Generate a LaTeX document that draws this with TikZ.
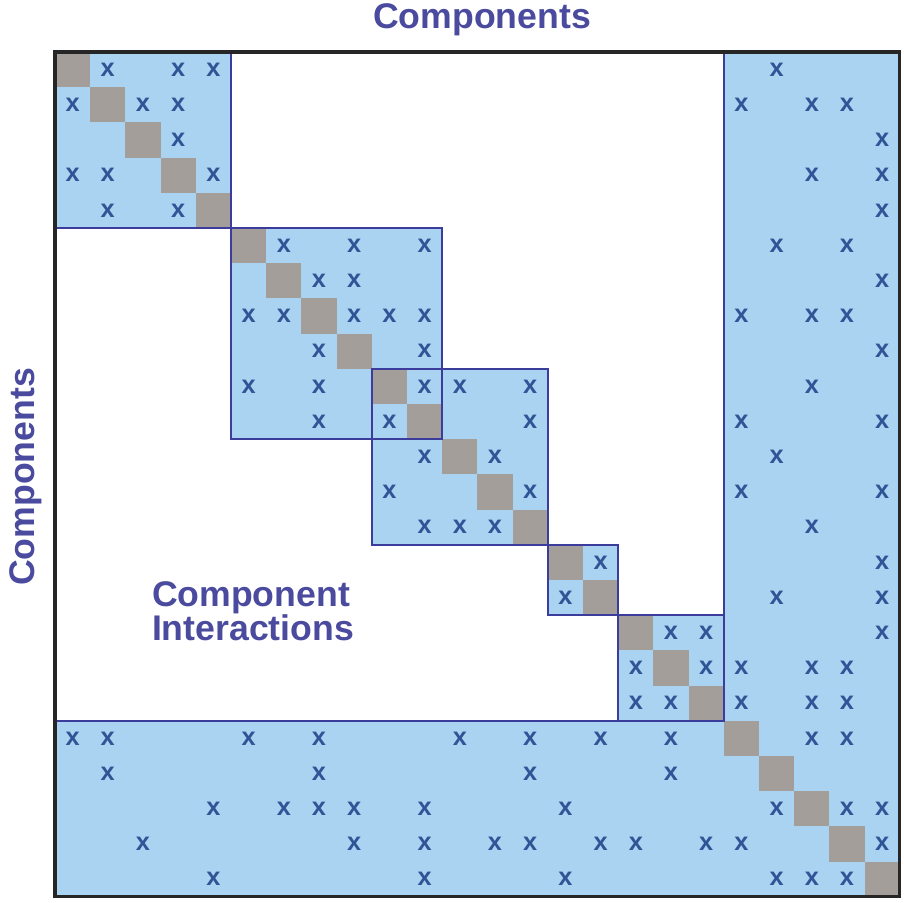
\documentclass[tikz,border=0pt]{standalone}
\usepackage{fontspec}
\setsansfont{Liberation Sans}
\usepackage{xcolor}
\usepackage{tikz}
\usetikzlibrary{calc, positioning}

\definecolor{dsmblue}{HTML}{A9D3F0}
\definecolor{dsmgrey}{HTML}{A39E9A}
\definecolor{dsmline}{HTML}{3B3C9C}
\definecolor{dsmmark}{HTML}{2F5597}
\definecolor{dsmtext}{HTML}{4A4A9E}

\begin{document}
\begin{tikzpicture}[>=latex,
    blockbox/.style={draw=dsmline, line width=1.8pt},
    xmark/.style={text=dsmmark, inner sep=0pt,
        font=\sffamily\bfseries\fontsize{20.5}{20.5}\selectfont},
    labeltext/.style={text=dsmtext, inner sep=0pt,
        font=\sffamily\bfseries\fontsize{28.8}{24.3}\selectfont}]
    \useasboundingbox (-1.5625,1.4773) rectangle (24.0909,-24.1761);
    % 1. Light blue areas: bands and blocks
    \fill[dsmblue] (19,0) -- (24,0) -- (24,-24) -- (0,-24) -- (0,-19) -- (19,-19) -- cycle;
    \foreach \a/\b in {0/5, 5/11, 9/14, 14/16, 16/19}
        \fill[dsmblue] (\a,-\a) rectangle (\b,-\b);
    % 2. Diagonal
    \foreach \i in {0,...,23}
        \fill[dsmgrey] (\i,-\i) rectangle ++(1,-1);
    % 3. Block borders and frame
    \foreach \a/\b in {0/5, 5/11, 9/14, 14/16, 16/19}
        \draw[blockbox] (\a,-\a) rectangle (\b,-\b);
    \draw[blockbox] (19,0) -- (19,-19) -- (0,-19);
    \draw[line width=2.6pt, black!85] (0,0) rectangle (24,-24);
    % 4. Interactions
    \foreach \row/\cols in {0/{1,3,4,20}, 1/{0,2,3,19,21,22}, 2/{3,23},
        3/{0,1,4,21,23}, 4/{1,3,23}, 5/{6,8,10,20,22}, 6/{7,8,23},
        7/{5,6,8,9,10,19,21,22}, 8/{7,10,23}, 9/{5,7,10,11,13,21},
        10/{7,9,13,19,23}, 11/{10,12,20}, 12/{9,13,19,23}, 13/{10,11,12,21},
        14/{15,23}, 15/{14,20,23}, 16/{17,18,23}, 17/{16,18,19,21,22},
        18/{16,17,19,21,22}, 19/{0,1,5,7,11,13,15,17,21,22}, 20/{1,7,13,17},
        21/{4,6,7,8,10,14,20,22,23}, 22/{2,8,10,12,13,15,16,18,19,23},
        23/{4,10,14,20,21,22}}
        \foreach \col in \cols
            \node[xmark] (m-\row-\col) at (\col+0.5,-\row-0.5) {x};
    % 5. Labels
    \node[labeltext, anchor=base] (toplabel) at (12.13,0.68) {Components};
    \node[labeltext, anchor=base, rotate=90] (sidelabel) at (-0.58,-12.07) {Components};
    \node[labeltext, anchor=north west, align=left] (interlabel) at (2.75,-15.04)
        {Component\\[0pt]Interactions};
\end{tikzpicture}
\end{document}
